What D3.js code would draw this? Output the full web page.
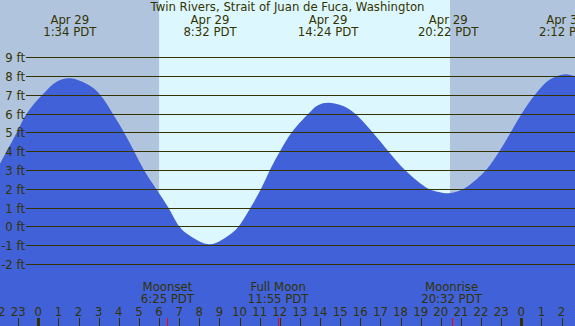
<!DOCTYPE html>
<html>
<head>
<meta charset="utf-8">
<script src="https://cdn.jsdelivr.net/npm/d3@7"></script>
<style>
  html, body { margin: 0; padding: 0; background: #fff; }
  svg { display: block; }
  text { font-family: "DejaVu Sans", sans-serif; font-size: 11.7px; fill: #333300; }
</style>
</head>
<body>
<svg id="chart" width="575" height="326"></svg>
<script>
// ---- data (hours since Apr 29 00:00 PDT, heights in ft) ----
const title = "Twin Rivers, Strait of Juan de Fuca, Washington";
const tideHours = [-2.2, -1.9, -1.57, -1.07, -0.58, 0.2, 0.91, 1.58, 2.57, 3.07, 3.70, 4.26, 4.76, 5.25, 5.85, 6.46,
                   7.0, 7.37, 8.53, 9.61, 9.96, 10.55, 11.07, 11.51, 12.01, 12.59, 13.42, 13.9, 14.40, 15.15,
                   15.74, 16.62, 17.39, 18.22, 19.38, 19.9, 20.37, 20.9, 21.30, 22.25, 22.91, 23.47, 24.02,
                   24.68, 25.4, 26.20, 27.0];
const tideFeet  = [2.8, 3.35, 4.0, 5.0, 6.0, 7.0, 7.7, 7.88, 7.48, 7.0, 6.0, 5.0, 4.0, 3.0, 2.0, 1.0,
                   0.0, -0.38, -0.96, -0.37, 0.0, 1.0, 2.0, 3.0, 4.0, 5.0, 6.0, 6.45, 6.58, 6.4,
                   6.0, 5.0, 4.0, 3.0, 2.0, 1.83, 1.76, 1.88, 2.1, 3.0, 4.0, 5.0, 6.0,
                   7.0, 7.8, 8.1, 7.85];
const extremeHours = [1.567, 8.533, 14.4, 20.367, 26.2];
const extremeDates = ["Apr 29", "Apr 29", "Apr 29", "Apr 29", "Apr 30"];
const extremeTimes = ["1:34 PDT", "8:32 PDT", "14:24 PDT", "20:22 PDT", "2:12 PDT"];
const moonHours = [6.417, 11.917, 20.533];
const moonNames = ["Moonset", "Full Moon", "Moonrise"];
const moonTimes = ["6:25 PDT", "11:55 PDT", "20:32 PDT"];
const sunriseHour = 6.0;
const sunsetHour = 20.46;
const feetTicks = [-2, -1, 0, 1, 2, 3, 4, 5, 6, 7, 8, 9];
const hourTicks = d3.range(-2, 27);

// ---- layout ----
const W = 575, H = 326;
const svg = d3.select("#chart");
const x = d3.scaleLinear().domain([0, 24]).range([38.3, 521.3]);
const y = d3.scaleLinear().domain([0, 9]).range([226.3, 57.3]);

const NIGHT = "#b0c4de", DAY = "#ddf7fe", WATER = "#4161d8", INK = "#333300";

// background night / day
svg.append("rect").attr("x", 0).attr("y", 0).attr("width", W).attr("height", H).attr("fill", NIGHT);
svg.append("rect")
  .attr("x", x(sunriseHour)).attr("y", 0)
  .attr("width", x(sunsetHour) - x(sunriseHour)).attr("height", H)
  .attr("fill", DAY);

// tide area
const pts = tideHours.map((h, i) => [h, tideFeet[i]]);
const area = d3.area()
  .x(d => x(d[0]))
  .y0(H)
  .y1(d => y(d[1]))
  .curve(d3.curveCatmullRom.alpha(0.5));
svg.append("path").datum(pts).attr("d", area).attr("fill", WATER);

// gridlines + y labels
const g = svg.append("g");
feetTicks.forEach(f => {
  const yy = Math.round(y(f)) + 0.5;
  g.append("line").attr("x1", 26).attr("x2", W).attr("y1", yy).attr("y2", yy)
    .attr("stroke", INK).attr("stroke-width", 1);
  g.append("text").attr("x", 25).attr("y", yy + 4).attr("text-anchor", "end").text(f + " ft");
});

// title
svg.append("text").attr("x", W / 2).attr("y", 11).attr("text-anchor", "middle").text(title);

// extremes labels
extremeHours.forEach((h, i) => {
  svg.append("text").attr("x", x(h)).attr("y", 24).attr("text-anchor", "middle").text(extremeDates[i]);
  svg.append("text").attr("x", x(h)).attr("y", 36).attr("text-anchor", "middle").text(extremeTimes[i]);
});

// moon labels
moonHours.forEach((h, i) => {
  svg.append("text").attr("x", x(h)).attr("y", 291).attr("text-anchor", "middle").text(moonNames[i]);
  svg.append("text").attr("x", x(h)).attr("y", 303).attr("text-anchor", "middle").text(moonTimes[i]);
});

// hour axis
hourTicks.forEach(h => {
  const xx = Math.round(x(h)) + 0.5;
  const lbl = ((h % 24) + 24) % 24;
  svg.append("text").attr("x", x(h)).attr("y", 315.5).attr("text-anchor", "middle").text(lbl);
  svg.append("line").attr("x1", xx).attr("x2", xx).attr("y1", 318).attr("y2", H)
    .attr("stroke", INK).attr("stroke-width", lbl === 0 ? 3 : 1);
});
moonHours.forEach(h => {
  const xx = Math.round(x(h)) + 0.5;
  svg.append("line").attr("x1", xx).attr("x2", xx).attr("y1", 318).attr("y2", H)
    .attr("stroke", "#ff0000").attr("stroke-width", 1);
});
</script>
</body>
</html>
